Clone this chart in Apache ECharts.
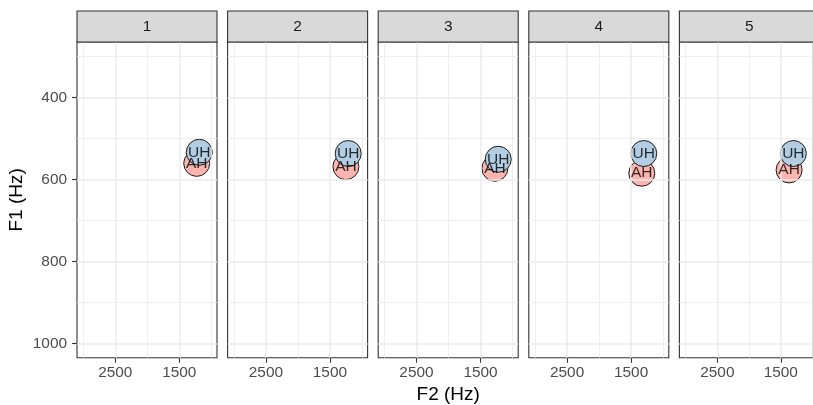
<!DOCTYPE html>
<html>
<head>
<meta charset="utf-8">
<script src="https://cdn.jsdelivr.net/npm/echarts@6/dist/echarts.min.js"></script>
<style>html,body{margin:0;padding:0;background:#fff}#c{width:813px;height:405px}</style>
</head>
<body>
<div id="c"></div>
<script>
const panels = ['1', '2', '3', '4', '5'];
const f2AH = [1228, 1250, 1275, 1333, 1369];
const f1AH = [561, 569, 573, 585, 577];
const f2UH = [1188, 1214, 1223, 1302, 1302];
const f1UH = [534, 537, 551, 537, 537];
const xTicks = [2500, 1500];
const xMinor = [3000, 2000, 1000];
const yTicks = [400, 600, 800, 1000];
const yMinor = [300, 500, 700, 900];
const xRange = [911, 3098];
const yRange = [265, 1035];

const FONT = "'Liberation Sans', Arial, Helvetica, sans-serif";
const chart = echarts.init(document.getElementById('c'), null, {renderer: 'canvas'});

const W = 813, L0 = 77, STEP = 150.6, PW = 140, TOP = 42, PH = 315.7;
const grids = [], xAxes = [], yAxes = [], series = [], graphics = [];
const plain = v => String(v);

panels.forEach((p, i) => {
  const left = L0 + i * STEP;
  // the last panel runs past the page edge: keep its scale, show only the visible part
  const vis = Math.min(PW, W + 1.2 - left);
  const xMinVis = xRange[1] - (vis / PW) * (xRange[1] - xRange[0]);
  grids.push({left: left, width: vis, top: TOP, height: PH, show: true,
    backgroundColor: '#fff', borderColor: '#333333', borderWidth: 1.1, containLabel: false});
  xAxes.push({type: 'value', gridIndex: i, inverse: true, min: xMinVis, max: xRange[1],
    axisLine: {show: false, onZero: false}, splitLine: {show: false},
    axisTick: {show: true, customValues: xTicks, length: 5, lineStyle: {color: '#333333', width: 1.1}},
    axisLabel: {show: true, customValues: xTicks, formatter: plain, color: '#4D4D4D', fontSize: 15.4, fontFamily: FONT, margin: 8}});
  yAxes.push({type: 'value', gridIndex: i, inverse: true, min: yRange[0], max: yRange[1],
    axisLine: {show: false, onZero: false}, splitLine: {show: false},
    axisTick: {show: i === 0, customValues: yTicks, length: 5, lineStyle: {color: '#333333', width: 1.1}},
    axisLabel: {show: i === 0, customValues: yTicks, formatter: plain, color: '#4D4D4D', fontSize: 15.4, fontFamily: FONT, margin: 10}});
  const ml = [];
  xMinor.filter(v => v >= xMinVis).forEach(v => ml.push({xAxis: v, lineStyle: {color: '#EBEBEB', width: 0.8, type: 'solid'}}));
  yMinor.forEach(v => ml.push({yAxis: v, lineStyle: {color: '#EBEBEB', width: 0.8, type: 'solid'}}));
  xTicks.forEach(v => ml.push({xAxis: v, lineStyle: {color: '#EBEBEB', width: 1.5, type: 'solid'}}));
  yTicks.forEach(v => ml.push({yAxis: v, lineStyle: {color: '#EBEBEB', width: 1.5, type: 'solid'}}));
  series.push({type: 'line', xAxisIndex: i, yAxisIndex: i, data: [], z: 1, silent: true,
    markLine: {silent: true, symbol: ['none', 'none'], label: {show: false}, animation: false, data: ml}});
  const pts = [
    {name: 'AH', value: [f2AH[i], f1AH[i]], color: '#FBB4AE'},
    {name: 'UH', value: [f2UH[i], f1UH[i]], color: '#B3CDE3'}
  ];
  pts.forEach((d, k) => {
    series.push({type: 'scatter', xAxisIndex: i, yAxisIndex: i, symbol: 'circle', symbolSize: 26,
      z: 3 + k, silent: true, emphasis: {disabled: true},
      itemStyle: {color: d.color, borderColor: '#1a1a1a', borderWidth: 1, opacity: 1},
      data: [{name: d.name, value: d.value}]});
  });
  pts.forEach(d => {
    series.push({type: 'scatter', xAxisIndex: i, yAxisIndex: i, symbolSize: 2, z: 10, silent: true,
      itemStyle: {color: 'rgba(0,0,0,0)'}, emphasis: {disabled: true},
      label: {show: true, position: 'inside', formatter: '{b}', color: '#000', fontSize: 15.5, fontFamily: FONT},
      labelLayout: {hideOverlap: false},
      data: [{name: d.name, value: d.value}]});
  });
  graphics.push({type: 'rect', shape: {x: left, y: 11, width: PW, height: 31},
    style: {fill: '#D9D9D9', stroke: '#333333', lineWidth: 1.1}, z: 100});
  graphics.push({type: 'text', x: left + PW / 2, y: 26.5,
    style: {text: p, fill: '#1A1A1A', font: '15.4px ' + FONT, textAlign: 'center', textVerticalAlign: 'middle'}, z: 101});
});

graphics.push({type: 'text', x: L0 + (4 * STEP + PW) / 2, y: 395,
  style: {text: 'F2 (Hz)', fill: '#000', font: '19px ' + FONT, textAlign: 'center', textVerticalAlign: 'middle'}});
graphics.push({type: 'text', x: 17, y: TOP + PH / 2, rotation: Math.PI / 2,
  style: {text: 'F1 (Hz)', fill: '#000', font: '19px ' + FONT, textAlign: 'center', textVerticalAlign: 'middle'}});

chart.setOption({animation: false, backgroundColor: '#fff', grid: grids, xAxis: xAxes, yAxis: yAxes,
  series: series, graphic: graphics});
</script>
</body>
</html>
